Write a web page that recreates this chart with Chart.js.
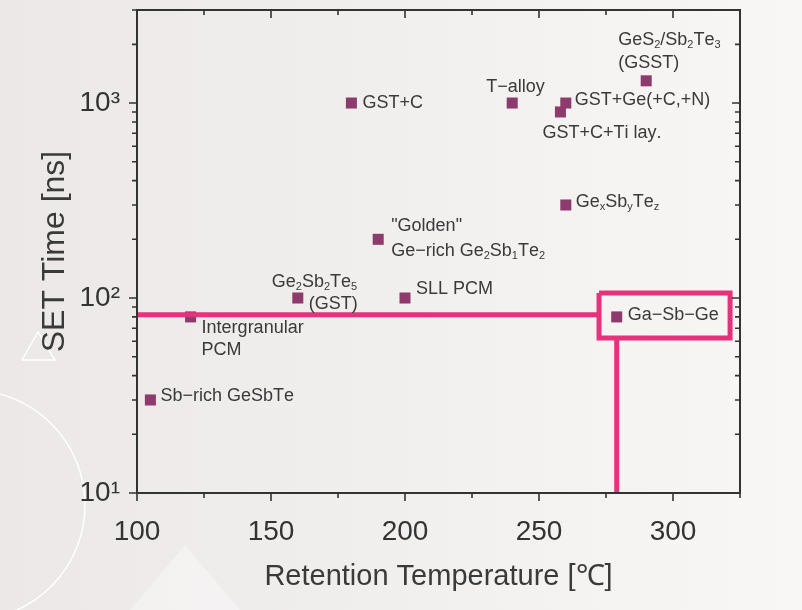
<!DOCTYPE html>
<html>
<head>
<meta charset="utf-8">
<script src="https://cdn.jsdelivr.net/npm/chart.js@4.4.1/dist/chart.umd.min.js"></script>
<style>
  html, body { margin: 0; padding: 0; background: #f1efee; }
  #wrap { width: 802px; height: 610px; }
</style>
</head>
<body>
<div id="wrap"><canvas id="chart" width="802" height="610"></canvas></div>
<script>
// materials, one per marker ('_' + char = subscript)
const materials = [
    ['Sb−rich GeSbTe'],
    ['Intergranular', 'PCM'],
    ['Ge_2Sb_2Te_5', '(GST)'],
    ['GST+C'],
    ['"Golden"', 'Ge−rich Ge_2Sb_1Te_2'],
    ['SLL PCM'],
    ['T−alloy'],
    ['GST+Ge(+C,+N)'],
    ['GST+C+Ti lay.'],
    ['Ge_xSb_yTe_z'],
    ['GeS_2/Sb_2Te_3', '(GSST)'],
    ['Ga−Sb−Ge']
];
const retentionTemp = [105, 120, 160, 180, 190, 200, 240, 260, 258, 260, 290, 279];
const setTime = [30, 80, 100, 1000, 200, 100, 1000, 1000, 900, 300, 1300, 80];

// highlight around Ga-Sb-Ge
const guideX = [100, 272.4];
const guideY = [82, 82];
const dropX = [279, 279];
const dropY = [10, 62.4];
const boxX = [272.4, 321.3, 321.3, 272.4, 272.4];
const boxY = [106, 106, 62.4, 62.4, 106];

// axes
const xTicks = [100, 125, 150, 175, 200, 225, 250, 275, 300, 325];
const xTickLabels = ['100', '', '150', '', '200', '', '250', '', '300', ''];
const yTicks = [10, 20, 30, 40, 50, 60, 70, 80, 90, 100, 200, 300, 400, 500, 600, 700, 800, 900, 1000, 2000, 3000];
const yTickLabels = { 10: '10¹', 100: '10²', 1000: '10³' };

// where each label line sits relative to its marker (px)
const labelOffsets = [
    [[10, -4]],
    [[11, 11], [11, 33]],
    [[-26, -16], [11, 6]],
    [[11, 0]],
    [[13, -13], [13, 12]],
    [[11, -9]],
    [[-26, -16]],
    [[9, -3]],
    [[-18, 21]],
    [[10, -3]],
    [[-28, -41], [-28, -18]],
    [[11, -2]]
];

const FONT = "'Liberation Sans', Arial, sans-serif";
const PINK = '#e6317b';
const MARK = '#8d3b6c';
const INK = '#333333';

function xy(xs, ys) {
    return xs.map((x, i) => ({x: x, y: ys[i]}));
}

function drawRich(ctx, text, x, y) {
    let cx = x;
    for (let i = 0; i < text.length; i++) {
        let ch = text[i];
        if (ch === '_' && i + 1 < text.length) {
            ctx.font = '11px ' + FONT;
            ctx.fillText(text[i + 1], cx, y + 5);
            cx += ctx.measureText(text[i + 1]).width;
            i++;
        } else {
            ctx.font = '18px ' + FONT;
            ctx.fillText(ch, cx, y);
            cx += ctx.measureText(ch).width;
        }
    }
}

const backdrop = {
    id: 'backdrop',
    beforeDraw(chart) {
        const ctx = chart.ctx;
        ctx.save();
        let g = ctx.createLinearGradient(0, 0, 802, 0);
        g.addColorStop(0, '#ebe8e7');
        g.addColorStop(1, '#f8f7f6');
        ctx.fillStyle = g;
        ctx.fillRect(0, 0, 802, 610);
        // soft decorative shapes
        ctx.fillStyle = 'rgba(255,255,255,0.35)';
        ctx.beginPath();
        ctx.moveTo(130, 610); ctx.lineTo(185, 545); ctx.lineTo(240, 610);
        ctx.fill();
        ctx.strokeStyle = '#ffffff';
        ctx.lineWidth = 1.5;
        ctx.beginPath();
        ctx.arc(-30, 505, 115, 0, Math.PI * 2);
        ctx.stroke();
        ctx.beginPath();
        ctx.moveTo(22, 360); ctx.lineTo(38, 332); ctx.lineTo(55, 360); ctx.closePath();
        ctx.stroke();
        ctx.restore();
    },
    afterDraw(chart) {
        const ctx = chart.ctx;
        const a = chart.chartArea;
        const xs = chart.scales.x, ys = chart.scales.y;
        ctx.save();
        ctx.strokeStyle = INK;
        ctx.lineWidth = 2;
        ctx.strokeRect(a.left, a.top, a.right - a.left, a.bottom - a.top);
        ctx.lineWidth = 1.6;
        ctx.beginPath();
        xTicks.forEach((v, i) => {
            const px = xs.getPixelForValue(v);
            const len = xTickLabels[i] ? 8 : 5;
            ctx.moveTo(px, a.bottom); ctx.lineTo(px, a.bottom + len);
            ctx.moveTo(px, a.top); ctx.lineTo(px, a.top + len);
        });
        yTicks.forEach(v => {
            const py = ys.getPixelForValue(v);
            const len = yTickLabels[v] ? 8 : 5;
            ctx.moveTo(a.left, py); ctx.lineTo(a.left - len, py);
            ctx.moveTo(a.right, py); ctx.lineTo(a.right - len, py);
        });
        ctx.stroke();

        // marker labels
        const meta = chart.getDatasetMeta(3);
        ctx.fillStyle = '#3a3a3a';
        ctx.textBaseline = 'middle';
        ctx.textAlign = 'left';
        materials.forEach((lines, i) => {
            const pt = meta.data[i];
            lines.forEach((line, j) => {
                const off = labelOffsets[i][j];
                drawRich(ctx, line, pt.x + off[0], pt.y + off[1]);
            });
        });
        ctx.restore();
    }
};

const pinkLine = {
    type: 'scatter',
    showLine: true,
    borderColor: PINK,
    borderWidth: 5,
    pointRadius: 0,
    clip: false,
    borderCapStyle: 'butt',
    borderJoinStyle: 'miter'
};

new Chart(document.getElementById('chart'), {
    type: 'scatter',
    data: {
        datasets: [
            Object.assign({label: 'guide', data: xy(guideX, guideY)}, pinkLine),
            Object.assign({label: 'drop', data: xy(dropX, dropY)}, pinkLine),
            Object.assign({label: 'box', data: xy(boxX, boxY)}, pinkLine),
            {
                label: 'materials',
                data: xy(retentionTemp, setTime),
                pointStyle: 'rect',
                pointRadius: 7.8,
                pointBackgroundColor: MARK,
                pointBorderWidth: 0,
                clip: false
            }
        ]
    },
    options: {
        responsive: false,
        animation: false,
        events: [],
        layout: { padding: { top: 10, right: 62, left: 0, bottom: 0 } },
        plugins: { legend: { display: false }, tooltip: { enabled: false } },
        scales: {
            x: {
                type: 'linear',
                min: 100,
                max: 325,
                afterFit: s => { s.height = 117; s.paddingLeft = 0; s.paddingRight = 0; },
                afterBuildTicks: s => { s.ticks = xTicks.map(v => ({value: v})); },
                grid: { display: false },
                border: { display: false },
                ticks: {
                    autoSkip: false,
                    maxRotation: 0,
                    padding: 14,
                    color: INK,
                    font: { family: FONT, size: 28 },
                    callback: (v, i) => xTickLabels[i]
                },
                title: {
                    display: true,
                    text: 'Retention Temperature [℃]',
                    color: '#3a3a3a',
                    font: { family: FONT, size: 29 },
                    padding: { top: 0, bottom: 16 }
                }
            },
            y: {
                type: 'logarithmic',
                min: 10,
                max: 3000,
                afterFit: s => { s.width = 137; s.paddingTop = 0; s.paddingBottom = 0; },
                afterBuildTicks: s => { s.ticks = yTicks.map(v => ({value: v})); },
                grid: { display: false },
                border: { display: false },
                ticks: {
                    autoSkip: false,
                    padding: 9,
                    color: INK,
                    font: { family: FONT, size: 28 },
                    callback: v => yTickLabels[v] || ''
                },
                title: {
                    display: true,
                    text: 'SET Time [ns]',
                    color: '#3a3a3a',
                    font: { family: FONT, size: 32 },
                    padding: { top: 36, bottom: 0 }
                }
            }
        }
    },
    plugins: [backdrop]
});
</script>
</body>
</html>
